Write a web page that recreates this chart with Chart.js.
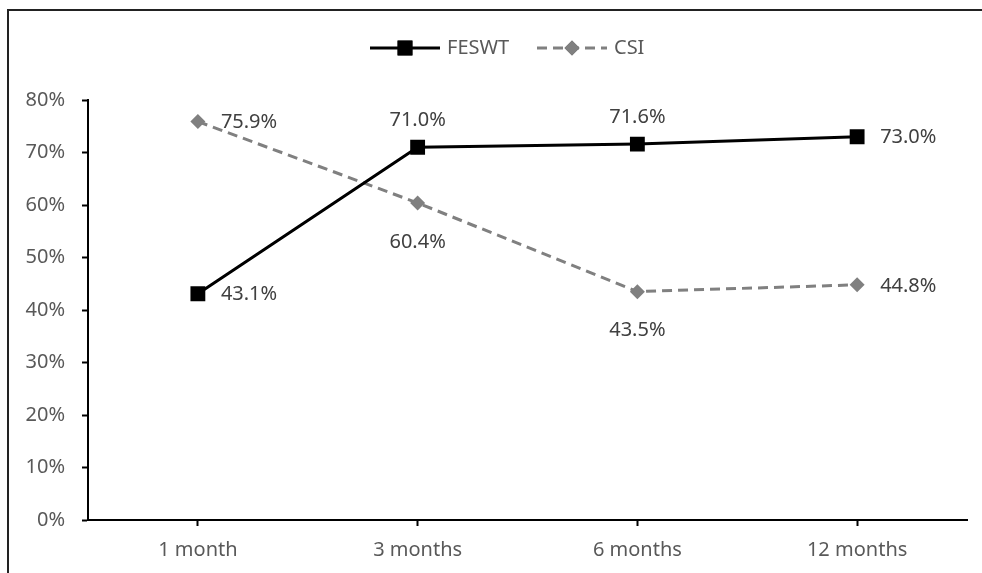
<!DOCTYPE html>
<html>
<head>
<meta charset="utf-8">
<style>
  html, body { margin: 0; padding: 0; background: #ffffff; }
  #wrap { width: 982px; height: 573px; position: relative; }
</style>
<script src="https://cdn.jsdelivr.net/npm/chart.js@4.4.1/dist/chart.umd.min.js"></script>
</head>
<body>
<div id="wrap"><canvas id="chart" width="982" height="573"></canvas></div>
<script>
// Follow-up time points
const categories = ['1 month', '3 months', '6 months', '12 months'];
// Success rates (%) per treatment
const feswtValues = [43.1, 71.0, 71.6, 73.0];
const csiValues = [75.9, 60.4, 43.5, 44.8];
// Y axis tick values (%)
const yTicks = [0, 10, 20, 30, 40, 50, 60, 70, 80];
// Where each value label sits relative to its point
const feswtLabelSide = ['right', 'above', 'above', 'right'];
const csiLabelSide = ['right', 'below', 'below', 'right'];

const FONT = '"Noto Sans", "Liberation Sans", sans-serif';
const FONT_SIZE = 20;

// Outer frame (left and top edges of the chart box)
const framePlugin = {
  id: 'frame',
  beforeDraw(chart) {
    const ctx = chart.ctx;
    ctx.save();
    ctx.fillStyle = '#ffffff';
    ctx.fillRect(0, 0, chart.width, chart.height);
    ctx.strokeStyle = '#222222';
    ctx.lineWidth = 2;
    ctx.beginPath();
    ctx.moveTo(8, chart.height + 5);
    ctx.lineTo(8, 10);
    ctx.lineTo(chart.width + 5, 10);
    ctx.stroke();
    ctx.restore();
  }
};

// Legend drawn as line + marker + name, centred at the top
const lineLegendPlugin = {
  id: 'lineLegend',
  afterDraw(chart) {
    const ctx = chart.ctx;
    const y = 48;
    const starts = [370, 537];
    ctx.save();
    chart.data.datasets.forEach((ds, i) => {
      const x0 = starts[i];
      const x1 = x0 + 70;
      ctx.strokeStyle = ds.borderColor;
      ctx.lineWidth = ds.borderWidth;
      ctx.setLineDash(ds.borderDash || []);
      ctx.beginPath();
      ctx.moveTo(x0, y);
      ctx.lineTo(x1, y);
      ctx.stroke();
      ctx.setLineDash([]);
      Chart.helpers.drawPoint(ctx, {
        pointStyle: ds.pointStyle,
        radius: ds.pointRadius,
        borderWidth: 0,
        rotation: 0
      }, (x0 + x1) / 2, y);
      ctx.fillStyle = ds.pointBackgroundColor;
      ctx.fill();
      ctx.fillStyle = '#595959';
      ctx.font = FONT_SIZE + 'px ' + FONT;
      ctx.textAlign = 'left';
      ctx.textBaseline = 'middle';
      ctx.fillText(ds.label, x1 + 7, y);
    });
    ctx.restore();
  }
};

// Percentage labels next to each point
const valueLabelPlugin = {
  id: 'valueLabels',
  afterDatasetsDraw(chart) {
    const ctx = chart.ctx;
    ctx.save();
    ctx.font = FONT_SIZE + 'px ' + FONT;
    ctx.fillStyle = '#404040';
    chart.data.datasets.forEach((ds, di) => {
      const meta = chart.getDatasetMeta(di);
      const sides = ds.labelSides;
      meta.data.forEach((pt, i) => {
        const text = ds.data[i].toFixed(1) + '%';
        const side = sides[i];
        if (side === 'right') {
          ctx.textAlign = 'left';
          ctx.textBaseline = 'middle';
          ctx.fillText(text, pt.x + 23, pt.y + 1);
        } else if (side === 'above') {
          ctx.textAlign = 'center';
          ctx.textBaseline = 'middle';
          ctx.fillText(text, pt.x, pt.y - 27);
        } else {
          ctx.textAlign = 'center';
          ctx.textBaseline = 'middle';
          ctx.fillText(text, pt.x, pt.y + 39);
        }
      });
    });
    ctx.restore();
  }
};

new Chart(document.getElementById('chart'), {
  type: 'line',
  data: {
    labels: categories,
    datasets: [
      {
        label: 'FESWT',
        data: feswtValues,
        labelSides: feswtLabelSide,
        borderColor: '#000000',
        backgroundColor: '#000000',
        borderWidth: 3,
        pointStyle: 'rect',
        pointRadius: 10.5,
        pointBackgroundColor: '#000000',
        pointBorderWidth: 0,
        tension: 0
      },
      {
        label: 'CSI',
        data: csiValues,
        labelSides: csiLabelSide,
        borderColor: '#808080',
        backgroundColor: '#808080',
        borderWidth: 3,
        borderDash: [10, 6],
        pointStyle: 'rectRot',
        pointRadius: 7.5,
        pointBackgroundColor: '#808080',
        pointBorderWidth: 0,
        tension: 0
      }
    ]
  },
  options: {
    responsive: false,
    animation: false,
    devicePixelRatio: 1,
    layout: { padding: { top: 100, right: 15, left: 0, bottom: 0 } },
    plugins: {
      legend: { display: false },
      tooltip: { enabled: false }
    },
    scales: {
      x: {
        offset: true,
        grid: {
          offset: false,
          drawOnChartArea: false,
          drawTicks: true,
          tickLength: 6,
          tickColor: '#000000',
          tickWidth: 2
        },
        border: { display: true, color: '#000000', width: 2 },
        ticks: {
          color: '#595959',
          font: { family: FONT, size: FONT_SIZE },
          padding: 12,
          maxRotation: 0
        },
        afterFit(scale) { scale.height = 53; }
      },
      y: {
        min: 0,
        max: 80,
        afterBuildTicks(scale) {
          scale.ticks = yTicks.map(v => ({ value: v }));
        },
        grid: {
          drawOnChartArea: false,
          drawTicks: true,
          tickLength: 6,
          tickColor: '#000000',
          tickWidth: 2
        },
        border: { display: true, color: '#000000', width: 2 },
        ticks: {
          color: '#595959',
          font: { family: FONT, size: FONT_SIZE },
          padding: 17,
          callback: v => v + '%'
        },
        afterFit(scale) { scale.width = 88; }
      }
    }
  },
  plugins: [framePlugin, lineLegendPlugin, valueLabelPlugin]
});
</script>
</body>
</html>
